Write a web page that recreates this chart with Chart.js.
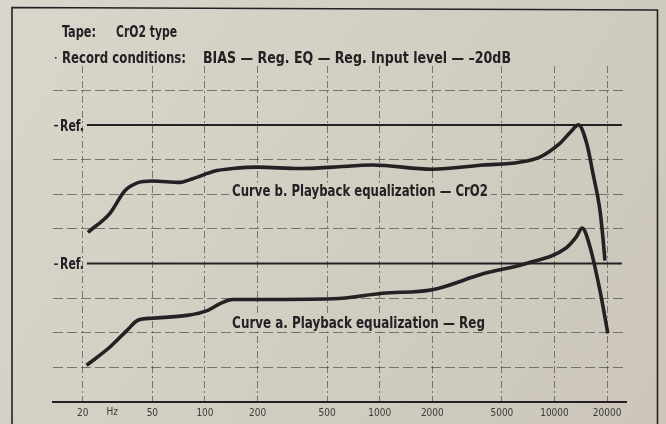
<!DOCTYPE html>
<html>
<head>
<meta charset="utf-8">
<script src="https://cdn.jsdelivr.net/npm/chart.js@4.4.1/dist/chart.umd.min.js"></script>
<style>
  html, body { margin: 0; padding: 0; background: #d5d1c5; overflow: hidden; }
  canvas { display: block; }
</style>
</head>
<body>
<canvas id="chart" width="666" height="424"></canvas>
<script>
// frequency in Hz, level in dB (5 dB per division, lower Ref = 0, upper Ref = 20)
const freqTicks = [20, 50, 100, 200, 500, 1000, 2000, 5000, 10000, 20000];
const levelGrid = [-15, -10, -5, 0, 5, 10, 15, 20, 25];
const refLevels = [0, 20];
const refFreq = [21.1, 24300];

const curveBFreq = [21.4, 28.5, 34.8, 40.7, 50, 72, 82, 117, 144, 200, 350, 540, 910, 2000, 3900, 6300, 8300, 10700, 12400, 13700, 15300, 16600, 18200, 19000, 19450];
const curveBLevel = [4.5, 7.2, 10.5, 11.6, 11.9, 11.7, 12.1, 13.4, 13.7, 13.9, 13.7, 13.9, 14.2, 13.6, 14.2, 14.6, 15.4, 17.3, 19.0, 20.0, 17.3, 13.0, 7.7, 3.3, 0.4];

const curveAFreq = [21, 28.5, 35.7, 41.3, 50, 79, 103, 122, 144, 200, 540, 1040, 2000, 3900, 6900, 11600, 13300, 14400, 16000, 18200, 20200];
const curveALevel = [-14.7, -12.1, -9.7, -8.2, -7.9, -7.5, -6.8, -5.8, -5.2, -5.2, -5.1, -4.3, -3.8, -1.5, 0, 2.2, 3.8, 5.1, 2.3, -3.9, -10.1];

// text labels anchored on the chart scales: [text, start Hz, end Hz, baseline dB]
const curveLabels = [
  ["Curve b. Playback equalization \u2014 CrO2", 143, 4160, 9.8],
  ["Curve a. Playback equalization \u2014 Reg", 143, 4000, -9.25]
];

const ink = "#262024";
const gridInk = "rgba(48,40,44,0.55)";
const condensed = '"Liberation Sans Narrow", "DejaVu Sans Condensed", "Roboto", sans-serif';

function paper(ctx) {
  const g = ctx.createLinearGradient(0, 0, 666, 424);
  g.addColorStop(0, "#dad6cb");
  g.addColorStop(1, "#cbc6b9");
  return g;
}

// draw text squeezed/stretched to a given width
function fitText(ctx, text, x, y, w) {
  const m = ctx.measureText(text).width;
  ctx.save();
  ctx.translate(x, y);
  ctx.scale(w / m, 1);
  ctx.fillText(text, 0, 0);
  ctx.restore();
}

const sheet = {
  id: "sheet",
  beforeDraw(chart) {
    const ctx = chart.ctx;
    ctx.save();
    ctx.fillStyle = paper(ctx);
    ctx.fillRect(0, 0, chart.width, chart.height);
    ctx.strokeStyle = ink;
    ctx.lineWidth = 1.6;
    ctx.beginPath();
    ctx.moveTo(12, 424);
    ctx.lineTo(12, 7.5);
    ctx.lineTo(657.5, 10);
    ctx.lineTo(657.5, 424);
    ctx.stroke();
    ctx.restore();
  },
  afterDraw(chart) {
    const ctx = chart.ctx;
    const xs = chart.scales.x, ys = chart.scales.y;
    ctx.save();
    ctx.fillStyle = ink;
    ctx.textBaseline = "alphabetic";
    ctx.font = "bold 15px " + condensed;
    fitText(ctx, "Tape:", 62, 37, 34);
    fitText(ctx, "CrO2 type", 116, 37, 61);
    fitText(ctx, "Record conditions:", 62, 63, 124);
    fitText(ctx, "BIAS \u2014 Reg. EQ \u2014 Reg. Input level \u2014 \u201320dB", 203, 63, 308);
    ctx.fillRect(55, 57, 1.5, 1.5);

    // Ref labels
    refLevels.forEach(r => {
      const y = ys.getPixelForValue(r);
      fitText(ctx, "Ref.", 60, y + 6, 24);
      ctx.fillRect(54, y, 4, 1.5);
    });

    // curve captions with the grid knocked out behind them
    ctx.font = "bold 16px " + condensed;
    curveLabels.forEach(([t, f0, f1, lv]) => {
      const x0 = xs.getPixelForValue(f0), x1 = xs.getPixelForValue(f1);
      const y = ys.getPixelForValue(lv);
      ctx.fillStyle = paper(ctx);
      ctx.fillRect(x0 - 3, y - 13, x1 - x0 + 6, 17);
      ctx.fillStyle = ink;
      fitText(ctx, t, x0, y, x1 - x0);
    });

    // unit next to the first frequency tick
    ctx.font = "10px " + condensed;
    ctx.fillStyle = "#3d3639";
    ctx.textAlign = "center";
    ctx.textBaseline = "middle";
    ctx.fillText("Hz", xs.getPixelForValue(29.5), 412);
    ctx.restore();
  }
};

const line = (fr, lv, w) => ({
  data: fr.map((f, i) => ({ x: f, y: lv[i] })),
  borderColor: ink,
  borderWidth: w,
  pointRadius: 0,
  fill: false,
  cubicInterpolationMode: "monotone"
});

new Chart(document.getElementById("chart"), {
  type: "line",
  data: {
    datasets: [
      Object.assign(line(curveBFreq, curveBLevel, 3.6), { label: "Curve b" }),
      Object.assign(line(curveAFreq, curveALevel, 3.6), { label: "Curve a" }),
      Object.assign(line(refFreq, [20, 20], 2), { label: "Ref upper" }),
      Object.assign(line(refFreq, [0, 0], 2), { label: "Ref lower" })
    ]
  },
  options: {
    responsive: false,
    animation: false,
    devicePixelRatio: 1,
    layout: { padding: { left: 53, right: 40, top: 66, bottom: 0 } },
    plugins: { legend: { display: false }, tooltip: { enabled: false } },
    scales: {
      x: {
        type: "logarithmic",
        min: 13.5,
        max: 25660,
        afterBuildTicks: s => { s.ticks = freqTicks.map(v => ({ value: v })); },
        afterFit: s => { s.height = 22; },
        grid: { color: gridInk, lineWidth: 1, drawTicks: false },
        border: { display: true, color: ink, width: 2, dash: [7, 3, 2, 3] },
        ticks: {
          autoSkip: false,
          maxRotation: 0,
          padding: 5,
          color: "#3d3639",
          font: { family: condensed, size: 10 },
          callback: v => String(v)
        }
      },
      y: {
        type: "linear",
        min: -20,
        max: 28.5,
        afterBuildTicks: s => { s.ticks = levelGrid.map(v => ({ value: v })); },
        afterFit: s => { s.width = 0; },
        grid: {
          color: c => (c.tick && refLevels.includes(c.tick.value)) ? "rgba(0,0,0,0)" : gridInk,
          lineWidth: 1,
          drawTicks: false
        },
        border: { display: false, dash: [10, 4] },
        ticks: { display: false }
      }
    }
  },
  plugins: [sheet]
});
</script>
</body>
</html>
